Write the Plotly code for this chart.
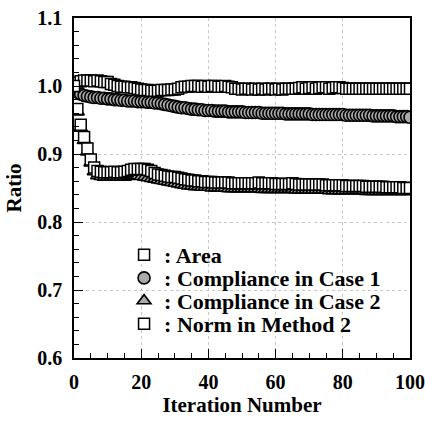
import plotly.graph_objects as go

iterations = list(range(101))

area = [1.000, 1.005, 1.007, 1.008, 1.008, 1.008, 1.007, 1.008, 1.007, 1.006,
        1.006, 1.003, 1.002, 1.000, 0.999, 0.999, 0.998, 0.998, 0.997, 0.996,
        0.995, 0.994, 0.994, 0.993, 0.993, 0.993, 0.994, 0.994, 0.994, 0.995,
        0.995, 0.996, 0.998, 0.999, 0.999, 1.000, 1.000, 1.000, 0.999, 1.000,
        0.999, 1.000, 1.000, 0.999, 0.999, 1.000, 0.999, 0.998, 0.996, 0.996,
        0.995, 0.996, 0.996, 0.995, 0.996, 0.995, 0.996, 0.995, 0.996, 0.996,
        0.995, 0.996, 0.995, 0.996, 0.996, 0.996, 0.996, 0.997, 0.998, 0.996,
        0.997, 0.998, 0.996, 0.997, 0.998, 0.998, 0.996, 0.997, 0.998, 0.998,
        0.997, 0.996, 0.996, 0.996, 0.996, 0.996, 0.996, 0.996, 0.996, 0.996,
        0.996, 0.996, 0.996, 0.996, 0.996, 0.996, 0.996, 0.996, 0.996, 0.996, 0.996]

compliance_case1 = [1.000, 0.991, 0.988, 0.986, 0.985, 0.984, 0.983, 0.983, 0.982, 0.982,
                    0.981, 0.981, 0.980, 0.980, 0.979, 0.979, 0.978, 0.978, 0.978, 0.977,
                    0.977, 0.977, 0.976, 0.976, 0.975, 0.975, 0.974, 0.973, 0.972, 0.971,
                    0.970, 0.969, 0.968, 0.968, 0.967, 0.966, 0.966, 0.965, 0.965, 0.964,
                    0.964, 0.964, 0.963, 0.963, 0.963, 0.963, 0.962, 0.962, 0.962, 0.962,
                    0.962, 0.961, 0.961, 0.961, 0.961, 0.961, 0.960, 0.960, 0.960, 0.960,
                    0.960, 0.960, 0.960, 0.959, 0.959, 0.959, 0.959, 0.959, 0.959, 0.959,
                    0.959, 0.958, 0.958, 0.958, 0.958, 0.958, 0.958, 0.958, 0.958, 0.958,
                    0.958, 0.957, 0.957, 0.957, 0.957, 0.957, 0.957, 0.957, 0.957, 0.956,
                    0.956, 0.956, 0.956, 0.956, 0.956, 0.956, 0.955, 0.955, 0.955, 0.955, 0.954]

compliance_case2 = [1.000, 0.962, 0.938, 0.920, 0.903, 0.887, 0.874, 0.868, 0.867, 0.866,
                    0.866, 0.866, 0.866, 0.866, 0.866, 0.866, 0.867, 0.868, 0.868, 0.868,
                    0.867, 0.866, 0.865, 0.864, 0.863, 0.862, 0.861, 0.860, 0.859, 0.858,
                    0.857, 0.856, 0.855, 0.854, 0.853, 0.853, 0.852, 0.852, 0.851, 0.851,
                    0.851, 0.850, 0.850, 0.850, 0.850, 0.850, 0.849, 0.849, 0.849, 0.849,
                    0.849, 0.849, 0.849, 0.849, 0.849, 0.849, 0.848, 0.848, 0.848, 0.848,
                    0.848, 0.848, 0.848, 0.848, 0.848, 0.848, 0.847, 0.847, 0.847, 0.847,
                    0.847, 0.847, 0.847, 0.847, 0.847, 0.847, 0.846, 0.846, 0.846, 0.846,
                    0.846, 0.846, 0.846, 0.846, 0.846, 0.846, 0.846, 0.845, 0.845, 0.845,
                    0.845, 0.845, 0.845, 0.845, 0.845, 0.845, 0.845, 0.845, 0.845, 0.845, 0.845]

norm_method2 = [1.000, 0.966, 0.943, 0.925, 0.908, 0.892, 0.880, 0.875, 0.874, 0.873,
                0.873, 0.873, 0.874, 0.873, 0.873, 0.874, 0.875, 0.877, 0.878, 0.878,
                0.878, 0.878, 0.877, 0.875, 0.872, 0.870, 0.869, 0.868, 0.867, 0.866,
                0.866, 0.865, 0.864, 0.863, 0.862, 0.861, 0.861, 0.860, 0.860, 0.859,
                0.859, 0.859, 0.858, 0.858, 0.858, 0.858, 0.858, 0.857, 0.857, 0.857,
                0.857, 0.857, 0.857, 0.857, 0.857, 0.858, 0.857, 0.857, 0.857, 0.857,
                0.856, 0.856, 0.856, 0.856, 0.856, 0.857, 0.856, 0.855, 0.855, 0.855,
                0.855, 0.855, 0.855, 0.855, 0.855, 0.854, 0.854, 0.854, 0.854, 0.854,
                0.854, 0.853, 0.853, 0.853, 0.853, 0.853, 0.853, 0.852, 0.852, 0.852,
                0.852, 0.852, 0.852, 0.851, 0.851, 0.851, 0.851, 0.851, 0.850, 0.850, 0.850]

x_ticks = [0, 20, 40, 60, 80, 100]
y_ticks = [0.6, 0.7, 0.8, 0.9, 1.0, 1.1]

FONT = "Liberation Serif"

fig = go.Figure()

fig.add_trace(go.Scatter(
    x=iterations, y=compliance_case1, mode="markers", name=": Compliance in Case 1",
    legend="legend2",
    marker=dict(symbol="circle", size=12, color="#aaaaaa", line=dict(color="black", width=1.6))))
fig.add_trace(go.Scatter(
    x=iterations, y=compliance_case2, mode="markers", name=": Compliance in Case 2",
    legend="legend3",
    marker=dict(symbol="triangle-up", size=12, color="#aaaaaa", line=dict(color="black", width=1.6))))
fig.add_trace(go.Scatter(
    x=iterations, y=area, mode="markers", name=": Area",
    legend="legend",
    marker=dict(symbol="square", size=11, color="white", line=dict(color="black", width=1.5))))
fig.add_trace(go.Scatter(
    x=iterations, y=norm_method2, mode="markers", name=": Norm in Method 2",
    legend="legend4",
    marker=dict(symbol="square", size=11, color="white", line=dict(color="black", width=1.5))))

LEG_X = 0.149
leg_font = dict(family=FONT, size=22, weight="bold", color="black")


def leg(yc):
    return dict(x=LEG_X, y=yc, xanchor="left", yanchor="middle",
                bgcolor="rgba(0,0,0,0)", font=leg_font, itemwidth=30,
                borderwidth=0)


fig.update_layout(
    width=425, height=422,
    margin=dict(l=74, r=15, t=18, b=64, autoexpand=False),
    paper_bgcolor="white", plot_bgcolor="white",
    font=dict(family=FONT, size=20, color="black", weight="bold"),
    showlegend=True,
    legend=leg(0.303),
    legend2=leg(0.235),
    legend3=leg(0.168),
    legend4=leg(0.100),
)

fig.update_xaxes(
    range=[0, 100], tickvals=x_ticks, ticktext=[str(v) for v in x_ticks],
    ticks="inside", ticklen=9, tickwidth=1, tickcolor="black",
    minor=dict(dtick=5, ticks="inside", ticklen=5, tickcolor="black", showgrid=False),
    showline=True, linecolor="black", linewidth=1.5, mirror=True,
    showgrid=True, gridcolor="#c8c8c8", griddash="dot", gridwidth=1,
    zeroline=False, automargin=False,
    title=dict(text="Iteration Number", font=dict(family=FONT, size=21, weight="bold"), standoff=6),
    tickfont=dict(family=FONT, size=20, weight="bold"),
    ticklabelstandoff=5,
)
fig.update_yaxes(
    range=[0.6, 1.1], tickvals=y_ticks, ticktext=["%.1f" % v for v in y_ticks],
    ticks="inside", ticklen=9, tickwidth=1, tickcolor="black",
    minor=dict(dtick=0.02, tick0=0.6, ticks="inside", ticklen=5, tickcolor="black", showgrid=False),
    showline=True, linecolor="black", linewidth=1.5, mirror=True,
    showgrid=True, gridcolor="#c8c8c8", griddash="dot", gridwidth=1,
    zeroline=False, automargin=False,
    title=dict(text="Ratio", font=dict(family=FONT, size=21, weight="bold"), standoff=10),
    tickfont=dict(family=FONT, size=20, weight="bold"),
    ticklabelstandoff=6,
)

fig.write_html("out.html")
